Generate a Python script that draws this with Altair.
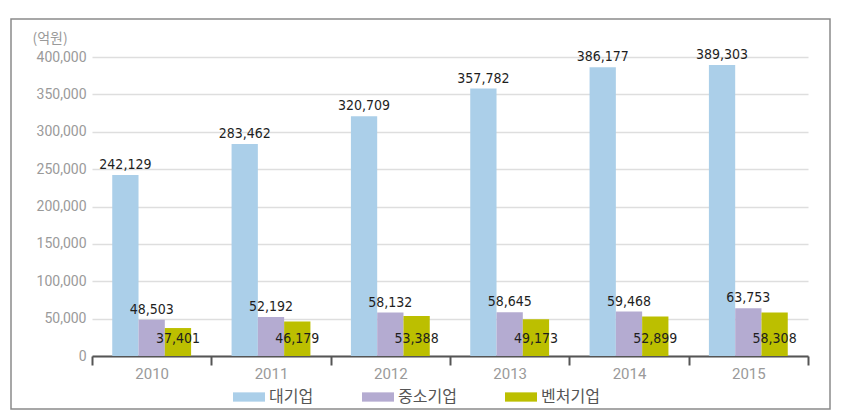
import altair as alt
import pandas as pd

years = ["2010", "2011", "2012", "2013", "2014", "2015"]
series = ["대기업", "중소기업", "벤처기업"]
large = [242129, 283462, 320709, 357782, 386177, 389303]
small = [48503, 52192, 58132, 58645, 59468, 63753]
venture = [37401, 46179, 53388, 49173, 52899, 58308]
colors = ["#abcfe9", "#b4abd1", "#bcbf00"]
y_ticks = [0, 50000, 100000, 150000, 200000, 250000, 300000, 350000, 400000]

rows = []
for i, yr in enumerate(years):
    for s, vals in zip(series, [large, small, venture]):
        rows.append({"year": yr, "series": s, "value": vals[i]})
df = pd.DataFrame(rows)

W, H = 716, 299
LABEL_FONT = "DejaVu Sans Condensed"
AXIS_FONT = "Roboto, Liberation Sans, sans-serif"

x_scale = alt.Scale(paddingInner=0, paddingOuter=0)
xo_scale = alt.Scale(paddingInner=0, paddingOuter=0.77)
y_scale = alt.Scale(domain=[0, 400000], nice=False)

x_axis = alt.Axis(tickBand="extent", labelAngle=0, domainColor="#555",
                  domainWidth=2, tickColor="#555", tickWidth=2, tickSize=9,
                  labelColor="#9a9a9a", labelFontSize=15, labelPadding=1,
                  labelFont=AXIS_FONT, grid=False)
y_axis = alt.Axis(values=y_ticks, format=",d", domain=False, ticks=False,
                  labelOverlap=False,
                  labelColor="#9a9a9a", labelFontSize=14, labelPadding=6,
                  labelFont=AXIS_FONT,
                  gridColor="#dedede", gridWidth=1.5,
                  titleAngle=0, titleAlign="left", titleBaseline="middle",
                  titleX=-60, titleY=-19, titleColor="#9a9a9a",
                  titleFontSize=14, titleFontWeight="normal",
                  titleFont="Noto Sans CJK KR")


def xenc():
    return alt.X("year:N", sort=years, title=None, scale=x_scale, axis=x_axis)


def xoenc():
    return alt.XOffset("series:N", sort=series, scale=xo_scale)


def yenc():
    return alt.Y("value:Q", scale=y_scale, title="(억원)", axis=y_axis)


bars = alt.Chart(df).mark_bar().encode(
    x=xenc(),
    xOffset=xoenc(),
    y=yenc(),
    color=alt.Color("series:N", sort=series,
                    scale=alt.Scale(domain=series, range=colors),
                    legend=alt.Legend(title=None, orient="none", direction="horizontal",
                                      legendX=141, legendY=324, columns=3,
                                      symbolType="M-1,-0.29L1,-0.29L1,0.29L-1,0.29Z",
                                      symbolSize=1024, symbolStrokeWidth=0,
                                      labelFontSize=16, labelColor="#555",
                                      labelFont="Noto Sans CJK KR", labelOffset=4,
                                      columnPadding=48, padding=0)),
)

top_labels = alt.Chart(df).transform_filter(
    alt.datum.series != "벤처기업"
).mark_text(baseline="bottom", dy=-3, fontSize=14, font=LABEL_FONT,
            color="#1e1e1e").encode(
    x=xenc(),
    xOffset=xoenc(),
    y=yenc(),
    text=alt.Text("value:Q", format=",d"),
)

venture_labels = alt.Chart(df).transform_filter(
    alt.datum.series == "벤처기업"
).mark_text(baseline="bottom", dy=-10, fontSize=14, font=LABEL_FONT,
            color="#1e1e1e").encode(
    x=xenc(),
    xOffset=xoenc(),
    y=alt.value(H),
    text=alt.Text("value:Q", format=",d"),
)

border = alt.Chart(pd.DataFrame({"k": [0]})).mark_rect(
    fill=None, stroke="#8a8a8a", strokeWidth=1.5
).encode(x=alt.value(-81), x2=alt.value(738), y=alt.value(-38), y2=alt.value(352))

chart = alt.layer(bars, top_labels, venture_labels, border).properties(
    width=W, height=H,
    autosize=alt.AutoSizeParams(type="none"),
    padding={"left": 92, "top": 57, "right": 42, "bottom": 63},
    background="white",
).configure_view(stroke=None)

chart.save("out.html", embed_options={"renderer": "svg", "actions": False})
